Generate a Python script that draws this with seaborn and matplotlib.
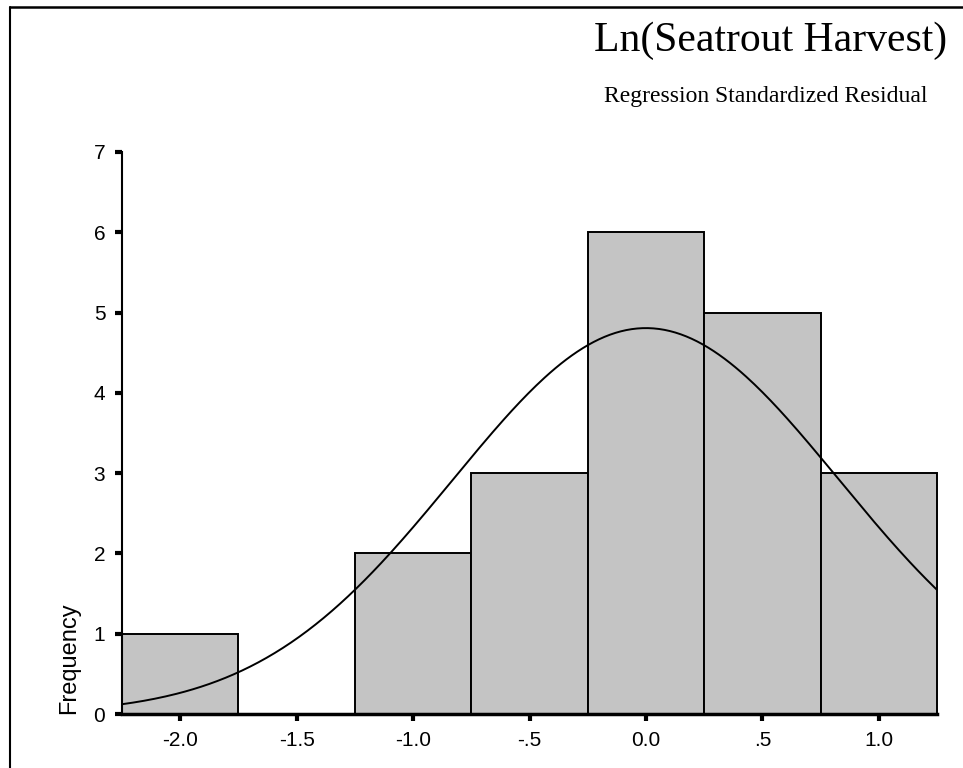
import numpy as np
import pandas as pd
import matplotlib
matplotlib.use('Agg')
import matplotlib.pyplot as plt
import seaborn as sns
from matplotlib.lines import Line2D

# Histogram of standardized residuals (bin centres and counts)
bin_centers = [-2.0, -1.5, -1.0, -0.5, 0.0, 0.5, 1.0]
counts = [1, 0, 2, 3, 6, 5, 3]
bin_width = 0.5
x_tick_labels = ['-2.0', '-1.5', '-1.0', '-.5', '0.0', '.5', '1.0']
y_ticks = [0, 1, 2, 3, 4, 5, 6, 7]

# fitted normal curve parameters
curve_mean = 0.0
curve_sd = 0.83

df = pd.DataFrame({'resid': bin_centers, 'count': counts})
lo = bin_centers[0] - bin_width / 2
hi = bin_centers[-1] + bin_width / 2

sns.set_style('white')
plt.rcParams['font.family'] = ['Liberation Sans', 'DejaVu Sans']
plt.rcParams['text.color'] = 'black'
plt.rcParams['axes.labelcolor'] = 'black'
plt.rcParams['xtick.color'] = 'black'
plt.rcParams['ytick.color'] = 'black'

fig = plt.figure(figsize=(9.63, 7.68), dpi=100)
ax = fig.add_axes([0.1267, 0.0703, 0.8463, 0.7318])

sns.histplot(data=df, x='resid', weights='count', binwidth=bin_width, binrange=(lo, hi),
             color='#c4c4c4', edgecolor='black', linewidth=1.4, alpha=1, ax=ax)
for p in ax.patches:
    p.set_clip_on(False)

# normal curve scaled to frequency
xs = np.linspace(lo, hi, 300)
n_total = sum(counts)
ys = n_total * bin_width / (curve_sd * np.sqrt(2 * np.pi)) * np.exp(-0.5 * ((xs - curve_mean) / curve_sd) ** 2)
sns.lineplot(x=xs, y=ys, color='black', linewidth=1.4, ax=ax)

ax.set_xlim(lo, hi)
ax.set_ylim(0, 7)
ax.set_xticks(bin_centers)
ax.set_xticklabels(x_tick_labels)
ax.set_yticks(y_ticks)
ax.tick_params(axis='both', bottom=True, left=True, direction='out', length=5, width=3,
               labelsize=15, color='black', labelcolor='black', pad=7)
sns.despine(ax=ax)
ax.spines['left'].set_linewidth(1.5)
ax.spines['bottom'].set_linewidth(2.5)
ax.spines['left'].set_color('black')
ax.spines['bottom'].set_color('black')

ax.set_xlabel('')
ax.set_ylabel('Frequency', fontsize=17, loc='bottom', labelpad=10, color='black')

fig.text(0.984, 0.947, 'Ln(Seatrout Harvest)', ha='right', va='center',
         fontsize=30, family='Liberation Serif', color='black')
fig.text(0.963, 0.874, 'Regression Standardized Residual', ha='right', va='center',
         fontsize=17, family='Liberation Serif', color='black')

# frame lines of the original figure box (top and left)
fig.add_artist(Line2D([0.0104, 1.0], [0.991, 0.991], transform=fig.transFigure,
                      color='black', linewidth=1.8))
fig.add_artist(Line2D([0.0104, 0.0104], [0.0, 0.991], transform=fig.transFigure,
                      color='black', linewidth=1.5))

fig.savefig('out.png', dpi=100)
